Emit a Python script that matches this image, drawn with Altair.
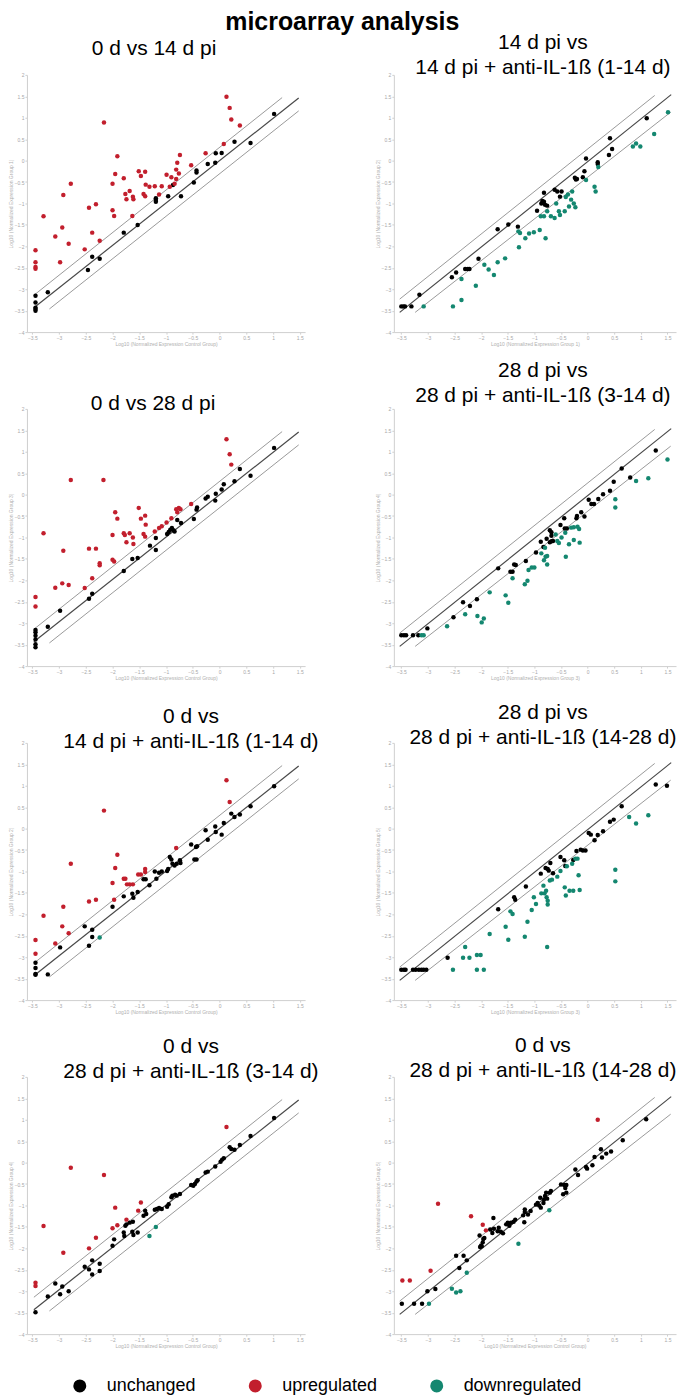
import altair as alt
import pandas as pd

FONT = "Liberation Sans"

X_TICKS = [-3.5, -3, -2.5, -2, -1.5, -1, -0.5, 0, 0.5, 1, 1.5]
Y_TICKS = [-4, -3.5, -3, -2.5, -2, -1.5, -1, -0.5, 0, 0.5, 1, 1.5, 2]
STATUS = ["unchanged", "upregulated", "downregulated"]
COLORS = ["#000000", "#c21f2d", "#148770"]

# reference lines: identity and two-fold change bands (log10)
LEFT_MID = [(-3.47, -3.43), (1.48, 1.46)]
LEFT_UP = [(-3.47, -3.14), (1.17, 1.47)]
LEFT_LO = [(-3.18, -3.46), (1.48, 1.16)]
RIGHT_MID = [(-3.53, -3.54), (1.57, 1.54)]
RIGHT_UP = [(-3.53, -3.23), (1.26, 1.52)]
RIGHT_LO = [(-3.24, -3.54), (1.56, 1.13)]

# ---------- panel 1: 0 d vs 14 d pi ----------
P1_UNCH = [(-3.44,-3.15),(-3.44,-3.31),(-3.44,-3.43),(-3.44,-3.46),(-3.44,-3.50),(-3.21,-3.07),(-2.46,-2.55),(-2.38,-2.24),(-2.24,-2.29),(-1.79,-1.68),(-1.53,-1.50),(-1.19,-0.88),(-1.19,-0.92),(-1.19,-0.96),(-0.96,-0.83),(-0.87,-0.57),(-0.72,-0.83),(-0.48,-0.51),(-0.43,-0.23),(-0.43,-0.28),(-0.22,-0.08),(-0.08,-0.05),(-0.07,0.17),(0.04,0.18),(0.28,0.44),(0.58,0.41),(1.02,1.09)]
P1_UP = [(-3.44,-2.09),(-3.44,-2.37),(-3.44,-2.48),(-3.44,-2.52),(-3.29,-1.30),(-3.07,-1.77),(-2.98,-2.37),(-2.94,-1.56),(-2.92,-0.80),(-2.82,-1.94),(-2.78,-0.54),(-2.52,-2.07),(-2.44,-1.10),(-2.38,-1.68),(-2.31,-1.02),(-2.24,-1.87),(-2.16,0.89),(-2.00,-0.54),(-2.00,-1.16),(-1.97,-1.29),(-1.95,-0.31),(-1.91,0.10),(-1.79,-0.41),(-1.76,-0.78),(-1.74,-0.90),(-1.68,-0.71),(-1.63,-1.29),(-1.62,-0.84),(-1.61,-0.90),(-1.51,-0.25),(-1.47,-0.36),(-1.42,-0.78),(-1.39,-0.83),(-1.39,-0.26),(-1.38,-0.56),(-1.31,-0.61),(-1.21,-0.60),(-1.13,-0.79),(-1.08,-0.60),(-0.99,-0.33),(-0.93,-0.61),(-0.90,-0.39),(-0.84,-0.54),(-0.81,-0.21),(-0.81,-0.43),(-0.79,-0.05),(-0.76,-0.30),(-0.74,0.13),(-0.53,-0.11),(-0.26,0.17),(0.08,0.39),(0.13,1.49),(0.19,1.23),(0.22,0.96),(0.38,0.82)]
P1_DOWN = []

# ---------- panel 2: 14 d pi vs 14 d pi + anti-IL-1b (1-14 d) ----------
P2_UNCH = [(-3.50,-3.40),(-3.46,-3.40),(-3.43,-3.40),(-3.31,-3.40),(-3.16,-3.13),(-2.55,-2.72),(-2.47,-2.61),(-2.30,-2.53),(-2.25,-2.53),(-2.22,-2.53),(-2.05,-2.29),(-1.69,-1.60),(-1.49,-1.49),(-1.31,-1.54),(-0.95,-1.17),(-0.87,-1.00),(-0.85,-0.94),(-0.82,-0.96),(-0.80,-1.03),(-0.82,-0.75),(-0.76,-1.05),(-0.62,-0.68),(-0.57,-0.72),(-0.52,-0.84),(-0.49,-0.72),(-0.24,-0.40),(-0.22,-0.44),(-0.20,-0.43),(-0.09,-0.39),(-0.06,-0.25),(-0.03,0.05),(0.19,-0.04),(0.19,-0.08),(0.40,0.13),(0.42,0.52),(0.46,0.27),(1.11,0.99)]
P2_UP = []
P2_DOWN = [(-3.08,-3.40),(-2.53,-3.40),(-2.37,-2.76),(-2.37,-3.25),(-2.10,-2.92),(-1.94,-2.43),(-1.86,-2.54),(-1.76,-2.67),(-1.69,-2.37),(-1.55,-2.28),(-1.30,-1.65),(-1.29,-2.02),(-1.27,-1.69),(-1.17,-1.81),(-1.10,-1.70),(-1.01,-1.67),(-0.90,-1.62),(-0.88,-1.30),(-0.82,-1.30),(-0.79,-1.81),(-0.76,-1.18),(-0.69,-1.30),(-0.62,-1.34),(-0.59,-1.00),(-0.54,-1.18),(-0.52,-1.27),(-0.43,-1.18),(-0.41,-0.85),(-0.37,-0.79),(-0.35,-1.07),(-0.31,-0.91),(-0.29,-0.72),(-0.26,-1.00),(-0.23,-1.09),(-0.03,-0.45),(0.13,-0.61),(0.15,-0.72),(0.20,-0.15),(0.85,0.33),(0.91,0.40),(0.99,0.33),(1.25,0.62),(1.51,1.13)]

# ---------- panel 3: 0 d vs 28 d pi ----------
P3_UNCH = [(-3.44,-3.16),(-3.44,-3.21),(-3.44,-3.29),(-3.44,-3.38),(-3.44,-3.49),(-3.44,-3.56),(-3.21,-3.08),(-2.98,-2.71),(-2.44,-2.43),(-2.38,-2.31),(-1.79,-1.78),(-1.63,-1.50),(-1.53,-1.48),(-1.30,-1.19),(-1.19,-1.01),(-1.19,-1.29),(-0.98,-0.92),(-0.95,-0.87),(-0.92,-0.82),(-0.89,-0.78),(-0.86,-0.83),(-0.84,-0.86),(-0.79,-0.59),(-0.72,-0.66),(-0.48,-0.57),(-0.43,-0.35),(-0.42,-0.30),(-0.26,-0.09),(-0.22,-0.05),(-0.08,-0.14),(-0.07,0.02),(0.04,0.12),(0.08,0.24),(0.28,0.31),(0.38,0.60),(0.58,0.44),(1.02,1.09)]
P3_UP = [(-3.44,-2.39),(-3.44,-2.61),(-3.29,-0.90),(-3.07,-2.17),(-2.94,-2.07),(-2.92,-1.31),(-2.82,-2.11),(-2.78,0.34),(-2.52,-2.18),(-2.44,-1.26),(-2.38,-1.95),(-2.31,-1.26),(-2.24,-1.60),(-2.24,-1.65),(-2.17,0.34),(-2.00,-0.94),(-2.00,-1.52),(-1.97,-1.56),(-1.95,-0.41),(-1.91,-0.56),(-1.79,-0.90),(-1.77,-0.94),(-1.74,-1.11),(-1.68,-0.90),(-1.62,-1.00),(-1.61,-1.15),(-1.51,-0.31),(-1.47,-0.56),(-1.42,-0.92),(-1.39,-0.98),(-1.39,-0.49),(-1.38,-0.70),(-1.21,-0.86),(-1.13,-0.78),(-1.08,-0.74),(-0.99,-0.65),(-0.90,-0.55),(-0.81,-0.34),(-0.79,-0.41),(-0.76,-0.31),(-0.73,-0.34),(-0.53,-0.22),(0.13,1.29),(0.19,0.94),(0.22,0.70)]
P3_DOWN = []

# ---------- panel 4: 28 d pi vs 28 d pi + anti-IL-1b (3-14 d) ----------
P4_UNCH = [(-3.50,-3.28),(-3.45,-3.28),(-3.41,-3.28),(-3.28,-3.28),(-3.18,-3.28),(-3.01,-3.12),(-2.52,-2.86),(-2.34,-2.51),(-2.21,-2.60),(-2.08,-2.44),(-1.68,-1.72),(-1.45,-1.80),(-1.41,-1.80),(-1.38,-1.63),(-1.35,-1.64),(-1.16,-1.55),(-0.97,-1.35),(-0.88,-1.10),(-0.83,-1.22),(-0.77,-1.03),(-0.71,-0.83),(-0.68,-0.88),(-0.71,-1.11),(-0.68,-1.09),(-0.65,-1.08),(-0.68,-0.96),(-0.51,-0.71),(-0.44,-0.55),(-0.43,-0.79),(-0.39,-0.79),(-0.21,-0.55),(-0.20,-0.50),(-0.12,-0.41),(-0.06,-0.51),(0.02,-0.12),(0.07,-0.22),(0.12,-0.22),(0.20,-0.10),(0.29,0.01),(0.42,0.09),(0.49,0.30),(0.64,0.61),(0.80,0.40),(1.28,1.03)]
P4_UP = []
P4_DOWN = [(-3.12,-3.28),(-3.08,-3.28),(-2.64,-3.07),(-2.30,-2.79),(-2.07,-2.83),(-1.99,-2.98),(-1.95,-2.89),(-1.84,-2.28),(-1.54,-2.35),(-1.49,-2.52),(-1.41,-1.95),(-1.18,-2.09),(-1.13,-2.01),(-1.11,-1.76),(-1.05,-1.70),(-1.00,-1.70),(-0.87,-1.37),(-0.82,-1.53),(-0.79,-1.45),(-0.76,-1.43),(-0.80,-1.24),(-0.76,-1.63),(-0.60,-0.93),(-0.57,-1.08),(-0.54,-1.13),(-0.49,-1.00),(-0.42,-0.89),(-0.41,-1.45),(-0.35,-1.16),(-0.31,-0.77),(-0.26,-0.76),(-0.26,-1.06),(-0.19,-0.75),(-0.16,-0.80),(-0.15,-1.12),(0.52,-0.11),(0.52,-0.30),(0.91,0.32),(1.14,0.38),(1.50,0.82)]

# ---------- panel 5: 0 d vs 14 d pi + anti-IL-1b (1-14 d) ----------
P5_UNCH = [(-3.44,-3.13),(-3.44,-3.25),(-3.44,-3.39),(-3.44,-3.41),(-3.21,-3.40),(-2.98,-2.77),(-2.52,-2.28),(-2.44,-2.73),(-2.38,-2.36),(-2.38,-2.53),(-2.00,-1.82),(-1.79,-1.58),(-1.63,-1.52),(-1.61,-1.61),(-1.53,-1.48),(-1.42,-1.18),(-1.38,-1.18),(-1.31,-1.32),(-1.21,-1.00),(-1.18,-1.17),(-1.13,-1.03),(-1.08,-1.00),(-0.98,-0.99),(-0.96,-0.94),(-0.93,-0.66),(-0.90,-0.72),(-0.88,-0.82),(-0.84,-0.86),(-0.80,-0.82),(-0.74,-0.74),(-0.73,-0.80),(-0.53,-0.37),(-0.44,-0.43),(-0.42,-0.41),(-0.47,-0.72),(-0.43,-0.72),(-0.26,-0.04),(-0.22,-0.26),(-0.08,0.05),(-0.07,-0.08),(0.04,-0.14),(0.08,0.13),(0.22,0.35),(0.28,0.27),(0.38,0.33),(0.58,0.52),(1.02,0.99)]
P5_UP = [(-3.44,-2.60),(-3.44,-2.92),(-3.29,-2.03),(-3.07,-2.68),(-2.94,-2.28),(-2.92,-1.82),(-2.82,-2.44),(-2.78,-0.82),(-2.44,-1.70),(-2.31,-1.66),(-2.16,0.42),(-2.00,-1.27),(-1.97,-1.66),(-1.95,-0.92),(-1.91,-0.61),(-1.79,-1.17),(-1.76,-1.17),(-1.73,-1.30),(-1.68,-1.30),(-1.62,-1.30),(-1.52,-1.07),(-1.47,-1.07),(-1.39,-0.94),(-1.39,-1.01),(-0.81,-0.45),(0.13,1.13),(0.19,0.62)]
P5_DOWN = [(-2.24,-2.54)]

# ---------- panel 6: 28 d pi vs 28 d pi + anti-IL-1b (14-28 d) ----------
P6_UNCH = [(-3.50,-3.29),(-3.45,-3.29),(-3.42,-3.29),(-3.28,-3.29),(-3.23,-3.29),(-3.17,-3.29),(-3.12,-3.29),(-3.08,-3.29),(-3.03,-3.29),(-2.63,-3.01),(-1.68,-1.88),(-1.38,-1.60),(-1.36,-1.66),(-1.16,-1.35),(-0.88,-1.05),(-0.79,-0.92),(-0.75,-0.94),(-0.73,-0.98),(-0.70,-0.80),(-0.65,-1.04),(-0.51,-0.66),(-0.44,-0.74),(-0.42,-0.87),(-0.27,-0.73),(-0.21,-0.52),(-0.13,-0.49),(-0.09,-0.51),(-0.04,-0.51),(0.02,-0.10),(0.06,-0.14),(0.13,-0.27),(0.19,-0.15),(0.29,-0.06),(0.42,0.16),(0.49,0.21),(0.64,0.52),(1.28,1.03),(1.49,1.00)]
P6_UP = []
P6_DOWN = [(-2.53,-3.29),(-2.34,-3.01),(-2.30,-2.76),(-2.22,-3.01),(-2.08,-3.29),(-2.08,-2.95),(-2.01,-2.95),(-1.95,-3.29),(-1.84,-2.46),(-1.54,-2.29),(-1.49,-2.59),(-1.45,-1.93),(-1.41,-1.99),(-1.18,-2.52),(-1.13,-2.17),(-1.05,-1.90),(-1.01,-1.60),(-0.97,-1.76),(-0.87,-1.51),(-0.83,-1.33),(-0.81,-1.51),(-0.78,-1.45),(-0.77,-1.60),(-0.75,-1.68),(-0.75,-1.77),(-0.76,-2.76),(-0.71,-1.21),(-0.67,-1.19),(-0.57,-1.12),(-0.51,-0.99),(-0.43,-1.37),(-0.41,-1.56),(-0.39,-0.88),(-0.34,-1.45),(-0.27,-1.45),(-0.29,-0.82),(-0.23,-0.70),(-0.19,-0.70),(-0.15,-1.43),(-0.17,-1.09),(0.52,-0.96),(0.52,-1.23),(0.78,0.27),(0.91,0.12),(1.14,0.31)]

# ---------- panel 7: 0 d vs 28 d pi + anti-IL-1b (3-14 d) ----------
P7_UNCH = [(-3.44,-3.49),(-3.21,-3.12),(-3.07,-2.82),(-2.98,-3.07),(-2.94,-2.89),(-2.82,-3.00),(-2.52,-2.43),(-2.44,-2.49),(-2.38,-2.28),(-2.38,-2.61),(-2.24,-2.36),(-2.24,-2.53),(-2.00,-1.94),(-1.97,-1.79),(-1.79,-1.63),(-1.78,-1.71),(-1.76,-1.47),(-1.74,-1.44),(-1.68,-1.40),(-1.62,-1.38),(-1.63,-1.61),(-1.61,-1.69),(-1.53,-1.63),(-1.42,-1.24),(-1.39,-1.12),(-1.37,-1.20),(-1.21,-1.10),(-1.17,-1.08),(-1.13,-1.06),(-1.08,-1.08),(-0.98,-1.03),(-0.95,-0.97),(-0.90,-0.81),(-0.88,-0.77),(-0.83,-0.75),(-0.80,-0.77),(-0.74,-0.73),(-0.53,-0.52),(-0.49,-0.54),(-0.46,-0.50),(-0.43,-0.44),(-0.41,-0.41),(-0.26,-0.23),(-0.22,-0.21),(-0.08,-0.09),(0.02,0.02),(0.05,0.07),(0.08,0.10),(0.19,0.36),(0.22,0.32),(0.28,0.30),(0.38,0.41),(0.58,0.62),(1.02,1.04)]
P7_UP = [(-3.44,-2.80),(-3.44,-2.88),(-3.29,-1.48),(-2.92,-2.10),(-2.78,-0.12),(-2.44,-2.00),(-2.31,-1.75),(-2.16,-0.29),(-2.00,-1.53),(-1.95,-1.05),(-1.91,-1.46),(-1.74,-1.33),(-1.52,-1.12),(-1.47,-0.93),(0.13,0.83)]
P7_DOWN = [(-1.31,-1.71),(-1.19,-1.50)]

# ---------- panel 8: 0 d vs 28 d pi + anti-IL-1b (14-28 d) ----------
P8_UNCH = [(-3.49,-3.29),(-3.26,-3.29),(-3.11,-3.29),(-3.01,-3.00),(-2.86,-2.95),(-2.47,-2.17),(-2.33,-2.17),(-2.41,-2.46),(-2.27,-2.28),(-2.03,-1.70),(-2.02,-1.97),(-2.00,-1.93),(-1.99,-1.95),(-1.96,-1.78),(-1.94,-1.76),(-1.97,-1.86),(-1.77,-1.29),(-1.83,-1.56),(-1.79,-1.64),(-1.76,-1.54),(-1.69,-1.60),(-1.67,-1.52),(-1.63,-1.61),(-1.59,-1.65),(-1.53,-1.44),(-1.50,-1.40),(-1.47,-1.47),(-1.44,-1.40),(-1.39,-1.38),(-1.36,-1.33),(-1.21,-1.23),(-1.18,-1.09),(-1.18,-1.15),(-1.19,-1.39),(-1.12,-1.21),(-1.07,-1.13),(-0.97,-0.98),(-0.94,-0.94),(-0.91,-1.00),(-0.89,-0.82),(-0.88,-1.05),(-0.83,-0.94),(-0.82,-0.86),(-0.80,-0.78),(-0.78,-0.70),(-0.76,-0.84),(-0.71,-0.70),(-0.69,-0.66),(-0.50,-0.51),(-0.44,-0.52),(-0.42,-0.59),(-0.40,-0.52),(-0.46,-0.74),(-0.40,-0.70),(-0.23,-0.16),(-0.18,-0.29),(-0.03,-0.10),(-0.01,-0.14),(0.09,-0.06),(0.13,0.13),(0.25,0.31),(0.27,0.12),(0.35,0.21),(0.44,0.26),(0.66,0.52),(1.10,1.01)]
P8_UP = [(-3.48,-2.75),(-3.34,-2.75),(-2.95,-2.52),(-2.81,-0.96),(-2.19,-1.25),(-1.97,-1.45),(-1.91,-1.58),(0.19,1.00)]
P8_DOWN = [(-2.98,-3.29),(-2.55,-2.94),(-2.47,-3.03),(-2.39,-3.00),(-2.27,-2.57),(-1.30,-1.89),(-0.72,-1.11)]

TITLES = [
    ["0 d vs 14 d pi"],
    ["14 d pi vs", "14 d pi + anti-IL-1ß (1-14 d)"],
    ["0 d vs 28 d pi"],
    ["28 d pi vs", "28 d pi + anti-IL-1ß (3-14 d)"],
    ["0 d vs", "14 d pi + anti-IL-1ß (1-14 d)"],
    ["28 d pi vs", "28 d pi + anti-IL-1ß (14-28 d)"],
    ["0 d vs", "28 d pi + anti-IL-1ß (3-14 d)"],
    ["0 d vs", "28 d pi + anti-IL-1ß (14-28 d)"],
]
X_TITLES = [
    "Log10 (Normalized Expression Control Group)",
    "Log10 (Normalized Expression Group 1)",
    "Log10 (Normalized Expression Control Group)",
    "Log10 (Normalized Expression Group 3)",
    "Log10 (Normalized Expression Control Group)",
    "Log10 (Normalized Expression Group 3)",
    "Log10 (Normalized Expression Control Group)",
    "Log10 (Normalized Expression Control Group)",
]
Y_TITLES = [
    "Log10 (Normalized Expression Group 1)",
    "Log10 (Normalized Expression Group 2)",
    "Log10 (Normalized Expression Group 3)",
    "Log10 (Normalized Expression Group 4)",
    "Log10 (Normalized Expression Group 2)",
    "Log10 (Normalized Expression Group 5)",
    "Log10 (Normalized Expression Group 4)",
    "Log10 (Normalized Expression Group 5)",
]
POINTS = [
    (P1_UNCH, P1_UP, P1_DOWN), (P2_UNCH, P2_UP, P2_DOWN),
    (P3_UNCH, P3_UP, P3_DOWN), (P4_UNCH, P4_UP, P4_DOWN),
    (P5_UNCH, P5_UP, P5_DOWN), (P6_UNCH, P6_UP, P6_DOWN),
    (P7_UNCH, P7_UP, P7_DOWN), (P8_UNCH, P8_UP, P8_DOWN),
]
TITLE_DX = [-12, 8, -13, 8, 25, 8, 25, 8]
TITLE_DY = [7, 26, 28, 20, 32, 28, 28, 27]

PANEL_W_LEFT = 279
PANEL_W_RIGHT = 283
PANEL_H = 258
X_DOMAIN_LEFT = [-3.6, 1.6]
X_DOMAIN_RIGHT = [-3.64, 1.66]

color_scale = alt.Scale(domain=STATUS, range=COLORS)
legend = alt.Legend(
    orient="none", legendX=44, legendY=1306, direction="horizontal",
    title=None, symbolType="circle", symbolSize=170, symbolStrokeWidth=0,
    labelFontSize=18, labelFont=FONT, labelColor="#000000", labelOffset=18,
    columnPadding=50, padding=0, labelLimit=300,
)


def points_df(unch, up, down):
    rows = []
    for status, pts in zip(STATUS, (unch, up, down)):
        for x, y in pts:
            rows.append({"x": x, "y": y, "status": status})
    return pd.DataFrame(rows)


def lines_df(right):
    sets = (RIGHT_MID, RIGHT_UP, RIGHT_LO) if right else (LEFT_MID, LEFT_UP, LEFT_LO)
    rows = []
    for kind, seg in zip(["identity", "upper", "lower"], sets):
        for i, (x, y) in enumerate(seg):
            rows.append({"x": x, "y": y, "kind": kind, "o": i})
    return pd.DataFrame(rows)


def panel(i):
    right = i % 2 == 1
    xs = alt.Scale(domain=X_DOMAIN_RIGHT if right else X_DOMAIN_LEFT, nice=False, zero=False)
    ys = alt.Scale(domain=[-4, 2], nice=False, zero=False)
    axis_common = dict(
        grid=False, domainColor="#cfcfcf", domainWidth=1, tickColor="#cfcfcf",
        tickSize=2, labelFontSize=5, labelColor="#a8a8a8", labelFont=FONT,
        labelPadding=1, titleFontSize=5, titleColor="#b0b0b0", titleFont=FONT,
        titleFontWeight="normal", titlePadding=1, labelFlush=False, format="~g",
    )
    xa = alt.Axis(values=X_TICKS, title=X_TITLES[i], **axis_common)
    ya = alt.Axis(values=Y_TICKS, title=Y_TITLES[i], **axis_common)
    X = alt.X("x:Q", scale=xs, axis=xa)
    Y = alt.Y("y:Q", scale=ys, axis=ya)

    ldf = lines_df(right)
    mid = alt.Chart(ldf).transform_filter(alt.datum.kind == "identity").mark_line(
        color="#484848", strokeWidth=1.2).encode(x=X, y=Y, order="o:Q")
    outer = alt.Chart(ldf).transform_filter(alt.datum.kind != "identity").mark_line(
        color="#808080", strokeWidth=0.8).encode(x=X, y=Y, detail="kind:N", order="o:Q")
    pts = alt.Chart(points_df(*POINTS[i])).mark_circle(size=20, opacity=1).encode(
        x=X, y=Y, color=alt.Color("status:N", scale=color_scale, legend=legend))
    t = TITLES[i]
    return alt.layer(mid, outer, pts).properties(
        width=PANEL_W_RIGHT if right else PANEL_W_LEFT, height=PANEL_H,
        title=alt.TitleParams(
            text=t, fontSize=21, font=FONT, fontWeight="normal", color="#000000",
            anchor="middle", frame="group", baseline="bottom", offset=0,
            lineHeight=25, dx=TITLE_DX[i], dy=TITLE_DY[i]),
    )


chart = alt.concat(
    *[panel(i) for i in range(8)], columns=2,
    spacing={"row": 77, "column": 89}, bounds="flush",
).properties(
    title=alt.TitleParams(
        text="microarray analysis", fontSize=25, font=FONT, fontWeight="bold",
        color="#000000", anchor="middle", offset=-3),
    padding=0,
).configure_view(stroke=None)

chart.save("out.html", embed_options={"renderer": "svg", "actions": False})
